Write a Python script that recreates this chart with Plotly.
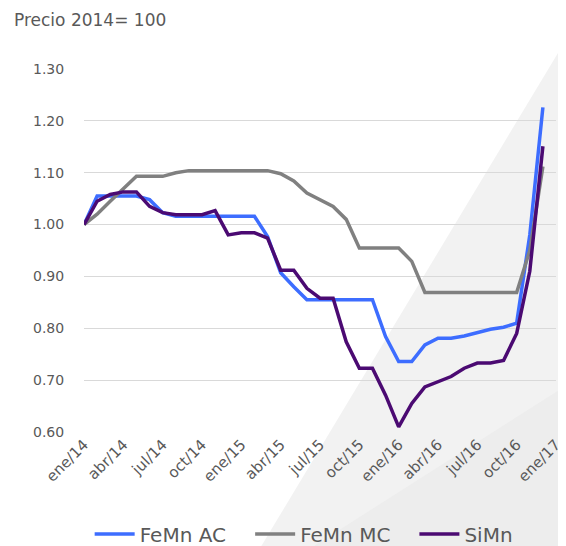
import plotly.graph_objects as go

meses = ["ene", "feb", "mar", "abr", "may", "jun", "jul", "ago", "sep", "oct", "nov", "dic"]
categorias = [f"{m}/{a}" for a in ("14", "15", "16") for m in meses] + ["ene/17"]
ticks = categorias[::3]

femn_ac = [1.00, 1.055, 1.055, 1.055, 1.055, 1.048, 1.023, 1.016, 1.016, 1.016, 1.016, 1.016,
           1.016, 1.016, 0.977, 0.907, 0.880, 0.855, 0.855, 0.855, 0.855, 0.855, 0.855, 0.784,
           0.736, 0.736, 0.768, 0.781, 0.781, 0.785, 0.792, 0.798, 0.802, 0.810, 0.980, 1.226]
femn_mc = [1.00, 1.020, 1.045, 1.070, 1.093, 1.093, 1.093, 1.100, 1.104, 1.104, 1.104, 1.104,
           1.104, 1.103, 1.104, 1.098, 1.084, 1.061, 1.048, 1.035, 1.010, 0.955, 0.955, 0.955,
           0.955, 0.929, 0.869, 0.869, 0.869, 0.869, 0.869, 0.869, 0.869, 0.869, 0.950, 1.112]
simn = [1.00, 1.045, 1.058, 1.063, 1.063, 1.035, 1.023, 1.019, 1.019, 1.019, 1.027, 0.980,
        0.984, 0.984, 0.974, 0.912, 0.912, 0.877, 0.858, 0.858, 0.774, 0.723, 0.723, 0.671,
        0.610, 0.655, 0.687, 0.697, 0.707, 0.723, 0.733, 0.733, 0.738, 0.790, 0.910, 1.151]

series = [("FeMn AC", femn_ac, "#3d6dff"), ("FeMn MC", femn_mc, "#808080"), ("SiMn", simn, "#4b0a72")]

FONT = "DejaVu Sans"
TXT = "#595959"

fig = go.Figure()
# one legend per series so the entries sit where the original has them
leyendas = ["legend", "legend2", "legend3"]
for (nombre, vals, color), leg in zip(series, leyendas):
    fig.add_trace(go.Scatter(x=categorias[:len(vals)], y=vals, name=nombre, mode="lines",
                             line=dict(color=color, width=3.5), legend=leg))

leg_style = dict(orientation="h", xanchor="left", y=-0.281, yanchor="middle",
                 font=dict(size=20, color=TXT), itemwidth=40, bgcolor="rgba(0,0,0,0)")

# the page body has an 8px margin, so the figure is a bit smaller
fig.update_layout(
    width=558, height=538,
    margin=dict(l=76, r=10, t=61, b=114, autoexpand=False),
    paper_bgcolor="white", plot_bgcolor="rgba(0,0,0,0)",
    font=dict(family=FONT, color=TXT),
    showlegend=True,
    legend=dict(x=0.012, **leg_style),
    legend2=dict(x=0.352, **leg_style),
    legend3=dict(x=0.700, **leg_style),
    shapes=[
        dict(type="path", xref="paper", yref="paper", layer="below", line_width=0,
             fillcolor="#f2f2f2", path="M 0.373 -0.32 L 1.03 1.10 L 1.03 -0.32 Z"),
        dict(type="path", xref="paper", yref="paper", layer="below", line_width=0,
             fillcolor="#ededed", path="M 0.48 -0.32 L 1.03 0.135 L 1.03 -0.32 Z"),
    ],
)
fig.add_annotation(text="Precio 2014= 100", x=-0.152, y=1.135, xref="paper", yref="paper",
                   xanchor="left", yanchor="middle", showarrow=False,
                   font=dict(size=17, color=TXT, family=FONT))

fig.update_xaxes(type="category", categoryorder="array", categoryarray=categorias,
                 range=[0, 36], tickmode="array", tickvals=ticks, ticktext=ticks,
                 tickangle=-45, showgrid=False, zeroline=False, showline=False,
                 tickfont=dict(size=15, color=TXT), ticks="", automargin=False)
fig.update_yaxes(range=[0.6, 1.3], dtick=0.1, tickformat=".2f", showgrid=True,
                 gridcolor="#d9d9d9", gridwidth=1, zeroline=False, showline=False,
                 tickfont=dict(size=14, color=TXT), ticks="outside", ticklen=16,
                 tickcolor="rgba(0,0,0,0)", automargin=False)

fig.write_html("out.html")
